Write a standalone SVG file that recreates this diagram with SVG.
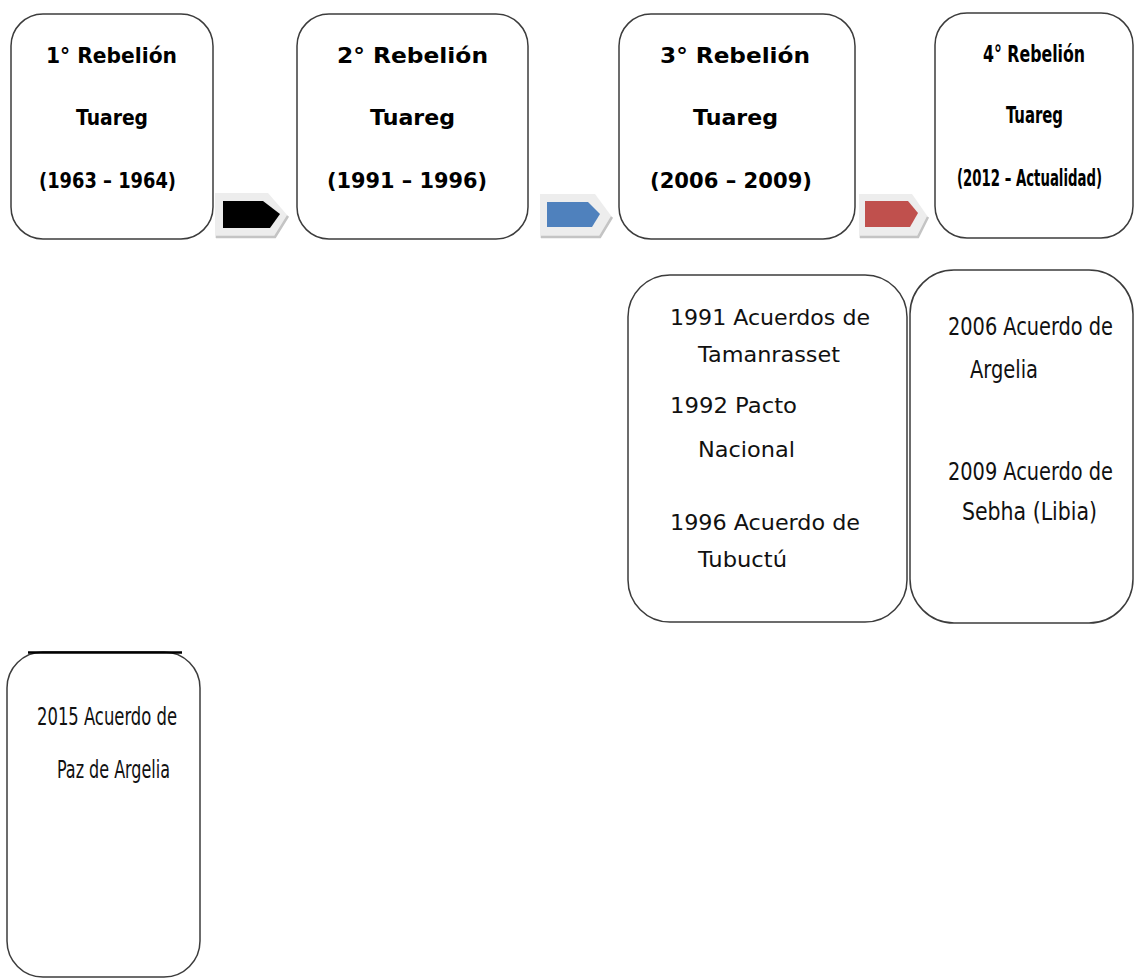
<svg xmlns="http://www.w3.org/2000/svg" width="1134" height="979" viewBox="0 0 1134 979">
<style>
.box{fill:#fff;stroke:#3c3c3c;stroke-width:1.5}
.hb{font-family:"DejaVu Sans",Verdana,sans-serif;font-weight:bold;font-size:21px;fill:#000}
.hc{font-family:"DejaVu Sans Condensed","Liberation Sans",sans-serif;font-weight:bold;font-size:23px;fill:#000}
.tv{font-family:"DejaVu Sans",Verdana,sans-serif;font-size:22px;fill:#111}
.tc{font-family:"DejaVu Sans Condensed","Liberation Sans",sans-serif;font-size:25px;fill:#111}
.bev{fill:#ededed}
.sh{fill:none;stroke:#c4c4c4;stroke-width:2.5}
</style>
<rect width="1134" height="979" fill="#fff"/>
<g id="connectors">
  <g id="arrow1">
    <polygon class="bev" points="215,193 268,193 288,216 275,238 215,238"/>
    <polyline class="sh" points="288,216 275,237 216,237"/>
    <polygon points="223,201 263,201 280,214 270,228 223,228" fill="#000"/>
  </g>
  <g id="arrow2">
    <polygon class="bev" points="540,194 595,194 612,217 600,238 540,238"/>
    <polyline class="sh" points="612,217 600,237 541,237"/>
    <polygon points="547,202 588,202 600,214 592,227 547,227" fill="#4f81bd"/>
  </g>
  <g id="arrow3">
    <polygon class="bev" points="859,194 912,194 928,217 918,238 859,238"/>
    <polyline class="sh" points="928,217 918,237 860,237"/>
    <polygon points="865,201 908,201 918,213 910,227 865,227" fill="#c0504d"/>
  </g>
</g>
<g id="node1">
  <rect class="box" x="11" y="14" width="202" height="225" rx="32"/>
  <text class="hb" x="46" y="63" textLength="131" lengthAdjust="spacingAndGlyphs">1°  Rebelión</text>
  <text class="hb" x="76" y="125" textLength="72" lengthAdjust="spacingAndGlyphs">Tuareg</text>
  <text class="hb" x="39" y="188" textLength="137" lengthAdjust="spacingAndGlyphs">(1963 – 1964)</text>
</g>
<g id="node2">
  <rect class="box" x="297" y="14" width="231" height="225" rx="32"/>
  <text class="hb" x="337" y="63" textLength="151" lengthAdjust="spacingAndGlyphs">2°  Rebelión</text>
  <text class="hb" x="370" y="125" textLength="85" lengthAdjust="spacingAndGlyphs">Tuareg</text>
  <text class="hb" x="327" y="188" textLength="160" lengthAdjust="spacingAndGlyphs">(1991  – 1996)</text>
</g>
<g id="node3">
  <rect class="box" x="619" y="14" width="236" height="225" rx="32"/>
  <text class="hb" x="660" y="63" textLength="150" lengthAdjust="spacingAndGlyphs">3°  Rebelión</text>
  <text class="hb" x="693" y="125" textLength="85" lengthAdjust="spacingAndGlyphs">Tuareg</text>
  <text class="hb" x="650" y="188" textLength="162" lengthAdjust="spacingAndGlyphs">(2006  – 2009)</text>
</g>
<g id="node4">
  <rect class="box" x="935" y="13" width="198" height="225" rx="32"/>
  <text class="hc" x="983" y="62" textLength="102" lengthAdjust="spacingAndGlyphs">4°  Rebelión</text>
  <text class="hc" x="1006" y="123" textLength="57" lengthAdjust="spacingAndGlyphs">Tuareg</text>
  <g transform="translate(0,186) scale(1,1.35) translate(0,-186)">
    <text class="hc" x="957" y="186" style="font-size:17px" textLength="145" lengthAdjust="spacingAndGlyphs">(2012 – Actualidad)</text>
  </g>
</g>
<g id="node5">
  <rect class="box" x="628" y="275" width="279" height="347" rx="42"/>
  <text class="tv" x="670" y="325" textLength="200" lengthAdjust="spacingAndGlyphs">1991 Acuerdos de</text>
  <text class="tv" x="698" y="362" textLength="142" lengthAdjust="spacingAndGlyphs">Tamanrasset</text>
  <text class="tv" x="670" y="413" textLength="127" lengthAdjust="spacingAndGlyphs">1992 Pacto</text>
  <text class="tv" x="698" y="457" textLength="97" lengthAdjust="spacingAndGlyphs">Nacional</text>
  <text class="tv" x="670" y="530" textLength="190" lengthAdjust="spacingAndGlyphs">1996 Acuerdo de</text>
  <text class="tv" x="698" y="567" textLength="89" lengthAdjust="spacingAndGlyphs">Tubuctú</text>
</g>
<g id="node6">
  <rect class="box" x="910" y="270" width="223" height="353" rx="44"/>
  <g transform="translate(0,335) scale(1,1.14) translate(0,-335)">
    <text class="tc" x="948" y="335" style="font-size:22px" textLength="165" lengthAdjust="spacingAndGlyphs">2006 Acuerdo de</text>
  </g>
  <text class="tc" x="970" y="378" textLength="68" lengthAdjust="spacingAndGlyphs">Argelia</text>
  <g transform="translate(0,480) scale(1,1.14) translate(0,-480)">
    <text class="tc" x="948" y="480" style="font-size:22px" textLength="165" lengthAdjust="spacingAndGlyphs">2009 Acuerdo de</text>
  </g>
  <text class="tc" x="962" y="520" textLength="135" lengthAdjust="spacingAndGlyphs">Sebha (Libia)</text>
</g>
<g id="node7">
  <rect class="box" x="7" y="652" width="193" height="325" rx="36"/>
  <line x1="28" y1="652.5" x2="182" y2="652.5" stroke="#000" stroke-width="2.5"/>
  <text class="tc" x="37" y="725" textLength="140" lengthAdjust="spacingAndGlyphs">2015 Acuerdo de</text>
  <text class="tc" x="57" y="778" textLength="113" lengthAdjust="spacingAndGlyphs">Paz de Argelia</text>
</g>
</svg>
